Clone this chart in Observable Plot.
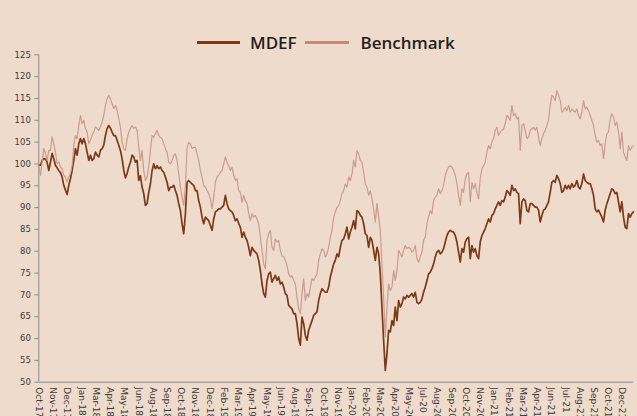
<!DOCTYPE html>
<html>
<head>
<meta charset="utf-8">
<script src="https://cdn.jsdelivr.net/npm/d3@7"></script>
<script src="https://cdn.jsdelivr.net/npm/@observablehq/plot@0.6"></script>
<style>
  html, body { margin: 0; padding: 0; background: #efdbcc; }
  body { width: 637px; height: 416px; overflow: hidden; }
  #legend { position: relative; height: 48px; font-family: "Open Sans", sans-serif; font-weight: 600; font-size: 17px; line-height: 17px; color: #231f20; }
  #legend .sw { position: absolute; height: 3px; top: 40.8px; }
  #legend .lb { position: absolute; top: 34px; white-space: nowrap; }
  #chart svg { display: block; }
</style>
</head>
<body>
<div id="legend"></div>
<div id="chart"></div>
<script>
const seriesNames = ["MDEF", "Benchmark"];

const tickLabels = ["Oct-17","Nov-17","Dec-17","Jan-18","Mar-18","Apr-18","May-18","Jun-18","Aug-18","Sep-18",
  "Oct-18","Nov-18","Dec-18","Feb-19","Mar-19","Apr-19","May-19","Jun-19","Aug-19","Sep-19",
  "Oct-19","Nov-19","Jan-20","Feb-20","Mar-20","Apr-20","May-20","Jul-20","Aug-20","Sep-20",
  "Oct-20","Nov-20","Jan-21","Feb-21","Mar-21","Apr-21","Jun-21","Jul-21","Aug-21","Sep-21",
  "Oct-21","Dec-21"];

const yTicks = [50, 55, 60, 65, 70, 75, 80, 85, 90, 95, 100, 105, 110, 115, 120, 125];

// samples between two consecutive category labels
const samplesPerLabel = 8.544;

const mdef = [
  99.7, 99.7, 100.8, 101.2, 101.1, 100.4, 98.5, 100.4, 102.4, 101.2,
  99.7, 99.1, 98.5, 98.0, 97.0, 95.1, 94.0, 93.0, 95.1, 96.6,
  98.5, 100.8, 103.5, 102.0, 104.6, 105.8, 104.6, 105.8, 104.6, 102.7,
  100.8, 102.0, 100.8, 101.2, 102.7, 102.0, 101.6, 103.1, 103.5, 104.3,
  106.5, 108.1, 108.8, 108.2, 107.3, 106.5, 106.5, 105.4, 104.3, 103.1,
  101.2, 98.5, 96.8, 97.8, 99.3, 100.4, 102.0, 101.6, 100.4,
  100.8, 96.2, 97.3, 94.7, 93.2, 90.5, 90.9, 93.5, 95.4, 98.5,
  100.0, 98.9, 99.6, 98.9, 99.3, 98.5, 98.1, 97.0, 95.8, 93.9,
  94.7, 94.7, 95.1, 93.9, 92.8, 90.9, 89.3, 86.3, 84.0, 88.6,
  95.8, 96.2, 95.8, 95.4, 95.1, 93.9, 93.9, 91.6, 90.1, 87.8,
  86.3, 87.8, 87.4, 87.0, 85.9, 84.8, 87.4, 89.0, 89.3, 89.7,
  89.7, 90.1, 90.5, 92.8, 90.9, 89.7, 89.3, 89.0, 88.2, 87.0,
  87.4, 86.4, 85.5, 83.2, 84.4, 83.2, 82.5, 80.9, 79.0, 80.9,
  80.2, 79.8, 79.4, 77.9, 75.6, 72.5, 70.3, 69.5, 73.3, 74.8,
  75.2, 72.9, 73.7, 74.5, 73.3, 74.1, 72.5, 72.9, 71.8, 70.3,
  69.9, 67.6, 67.2, 66.8, 65.7, 65.7, 63.4, 60.0, 58.5, 64.9,
  63.4, 60.7, 59.6, 61.9, 63.0, 64.1, 65.3, 65.7, 66.1, 68.7,
  70.3, 71.4, 71.0, 70.6, 70.6, 71.8, 74.1, 75.6, 77.1, 77.9,
  79.4, 78.7, 80.9, 82.5, 82.8, 84.0, 85.5, 82.8, 84.4, 85.5,
  87.0, 85.1, 89.3, 89.0, 88.2, 87.8, 86.3, 84.0, 83.6, 80.9,
  83.2, 82.5, 80.2, 77.9, 80.9, 79.4, 74.8, 67.2, 59.6, 52.7,
  56.5, 61.9, 61.5, 64.1, 63.0, 67.2, 64.1, 68.7, 67.2, 68.0,
  69.5, 69.1, 69.9, 69.5, 69.9, 70.3, 69.5, 70.6, 68.3, 68.0,
  68.3, 69.1, 70.6, 71.8, 73.3, 74.8, 75.2, 76.0, 77.1, 78.7,
  79.8, 80.2, 79.4, 79.8, 80.6, 82.1, 83.6, 84.4, 84.8, 84.5,
  84.4, 83.6, 82.1, 79.8, 77.5, 80.6, 79.8, 82.1, 82.9, 83.2,
  78.3, 81.3, 79.8, 80.6, 79.0, 78.3, 82.1, 83.6, 84.4, 85.2,
  86.3, 87.4, 86.7, 88.2, 88.6, 89.7, 90.5, 91.3, 90.5, 91.6,
  91.3, 92.4, 93.9, 93.5, 92.8, 95.1, 93.9, 94.3, 93.5, 93.2,
  86.3, 91.3, 92.0, 91.6, 89.3, 89.0, 90.9, 90.9, 90.5, 90.1,
  90.1, 89.4, 86.7, 88.2, 89.4, 89.7, 90.5, 91.3, 93.5, 95.8,
  96.2, 95.8, 97.4, 96.6, 95.5, 93.5, 93.9, 95.1, 94.3, 95.1,
  94.3, 95.5, 94.7, 95.1, 96.2, 94.7, 94.3, 95.5, 97.7, 96.2,
  95.8, 95.5, 95.5, 94.3, 92.8, 89.7, 89.0, 89.4, 88.6, 87.8,
  86.7, 89.4, 90.9, 92.0, 93.2, 94.3, 94.0, 93.2, 93.5, 91.3,
  89.0, 91.3, 87.8, 85.5, 85.2, 88.6, 87.8, 88.6, 89.0
];

const benchmark = [
  99.7, 97.4, 100.4, 103.5, 102.4, 100.8, 103.1, 103.1, 106.2, 104.6,
  102.7, 100.1, 100.4, 99.3, 98.9, 97.4, 97.0, 95.9, 97.0, 97.8,
  99.7, 104.3, 106.5, 105.8, 108.8, 111.1, 109.2, 110.0, 108.1, 107.3,
  104.6, 105.4, 106.5, 107.3, 108.5, 108.1, 107.7, 108.5, 109.6, 111.1,
  113.4, 114.9, 115.7, 114.9, 113.8, 112.7, 113.4, 112.3, 110.4, 108.5,
  105.0, 103.5, 103.1, 105.8, 107.3, 108.1, 108.8, 108.1, 108.5,
  107.7, 103.8, 100.8, 103.1, 98.5, 96.2, 97.0, 99.3, 103.1, 106.5,
  106.1, 106.9, 107.7, 106.5, 106.1, 105.8, 104.6, 103.5, 102.7, 100.4,
  100.0, 100.8, 101.9, 102.3, 100.8, 97.7, 94.7, 92.4, 90.5, 94.7,
  103.8, 105.0, 104.6, 103.5, 103.8, 103.8, 102.3, 100.8, 98.5, 97.0,
  95.1, 94.7, 93.9, 93.2, 92.0, 89.7, 92.4, 95.8, 97.0, 97.4,
  98.1, 98.5, 100.0, 101.6, 100.4, 99.6, 98.5, 99.3, 97.4, 96.2,
  96.6, 93.9, 93.5, 91.2, 92.8, 91.6, 90.9, 88.6, 87.0, 88.6,
  87.8, 88.2, 87.4, 86.3, 83.2, 80.2, 77.1, 76.0, 82.5, 84.0,
  84.8, 80.9, 80.2, 82.8, 82.1, 82.5, 80.2, 79.0, 78.7, 77.9,
  76.7, 74.8, 74.1, 74.4, 73.3, 72.5, 69.5, 66.8, 65.7, 70.3,
  73.7, 68.7, 70.3, 69.5, 71.8, 73.7, 73.3, 74.1, 74.8, 77.9,
  79.4, 80.6, 80.2, 78.7, 79.4, 80.9, 83.2, 84.8, 87.8, 89.0,
  90.0, 90.5, 91.6, 93.2, 93.9, 95.4, 94.7, 97.0, 96.2, 97.7,
  100.8, 99.3, 103.1, 102.3, 100.8, 100.4, 98.1, 95.4, 94.7, 92.8,
  93.9, 92.0, 89.7, 86.7, 90.9, 87.8, 84.8, 77.1, 69.5, 60.3,
  67.2, 72.5, 71.0, 71.8, 75.6, 73.3, 75.6, 80.2, 79.4, 78.7,
  80.2, 81.3, 80.6, 80.9, 80.6, 79.8, 80.2, 81.3, 78.3, 77.5,
  78.7, 79.8, 82.5, 83.2, 86.3, 87.8, 89.3, 88.6, 91.6, 92.4,
  92.8, 94.3, 93.2, 93.9, 95.1, 97.4, 98.5, 99.3, 99.6, 99.3,
  98.5, 97.4, 95.5, 92.8, 90.5, 94.3, 93.5, 96.6, 97.7, 98.1,
  91.3, 95.8, 94.3, 95.5, 93.5, 92.0, 96.6, 98.9, 99.6, 100.4,
  102.7, 104.2, 103.5, 105.0, 105.8, 107.7, 108.4, 106.5, 107.3, 107.7,
  108.0, 109.2, 111.1, 110.7, 110.0, 113.4, 111.1, 111.5, 110.3, 110.7,
  103.1, 108.8, 109.2, 107.7, 105.8, 106.1, 107.7, 108.0, 108.4, 107.7,
  108.4, 106.1, 104.2, 105.8, 106.9, 107.7, 108.8, 110.0, 113.4, 115.7,
  115.3, 114.5, 116.8, 115.7, 114.5, 111.9, 112.2, 113.0, 112.2, 113.4,
  111.9, 112.6, 112.2, 111.9, 112.6, 111.1, 110.3, 111.9, 114.5, 112.6,
  113.0, 112.2, 111.1, 110.0, 108.8, 106.5, 105.0, 105.4, 104.2, 104.6,
  101.2, 104.6, 106.9, 107.3, 110.3, 111.5, 110.7, 108.8, 109.6, 107.3,
  103.5, 107.3, 102.7, 101.6, 100.8, 104.2, 103.1, 103.9, 104.2
];

const colors = { MDEF: "#7b3a17", Benchmark: "#c99c8e" };
const legendColors = { MDEF: "#7b3a17", Benchmark: "#c38a79" };

// ---- legend (HTML, above the SVG)
const legend = document.getElementById("legend");
const legendLayout = [
  { swLeft: 196.7, swWidth: 43.3, textLeft: 250 },
  { swLeft: 305, swWidth: 44.3, textLeft: 360.5 }
];
seriesNames.forEach((name, k) => {
  const sw = document.createElement("div");
  sw.className = "sw";
  sw.style.left = legendLayout[k].swLeft + "px";
  sw.style.width = legendLayout[k].swWidth + "px";
  sw.style.background = legendColors[name];
  legend.appendChild(sw);
  const lb = document.createElement("span");
  lb.className = "lb";
  lb.style.left = legendLayout[k].textLeft + "px";
  lb.textContent = name;
  legend.appendChild(lb);
});

// ---- chart
const tickData = tickLabels.map((label, k) => ({ pos: k * samplesPerLabel, label }));
const idx = (d, i) => i;
const val = (d) => d;

const chart = Plot.plot({
  width: 637,
  height: 368,
  marginLeft: 38.3,
  marginRight: 4,
  marginTop: 6.3,
  marginBottom: 34.3,
  style: { background: "transparent", fontFamily: "'DejaVu Sans', sans-serif", overflow: "visible" },
  x: { domain: [0, mdef.length - 1], axis: null },
  y: { domain: [50, 125], axis: null },
  marks: [
    Plot.axisY(yTicks, { tickSize: 4, tickPadding: 4, stroke: "#8c8c8c", fill: "#3a3a3a", fontSize: 8.5, label: null }),
    Plot.ruleX([0], { stroke: "#8c8c8c", strokeWidth: 1 }),
    Plot.lineY(mdef, { x: idx, y: val, stroke: colors.MDEF, strokeWidth: 1.7 }),
    Plot.lineY(benchmark, { x: idx, y: val, stroke: colors.Benchmark, strokeWidth: 1.2 }),
    Plot.ruleY([50], { stroke: "#a6a6a6", strokeWidth: 1.6 }),
    Plot.text(tickData, { x: "pos", frameAnchor: "bottom", text: "label", rotate: 90, textAnchor: "start", lineAnchor: "middle", dy: 5, fontSize: 9, fill: "#3a3a3a" })
  ]
});
document.getElementById("chart").appendChild(chart);
</script>
</body>
</html>
